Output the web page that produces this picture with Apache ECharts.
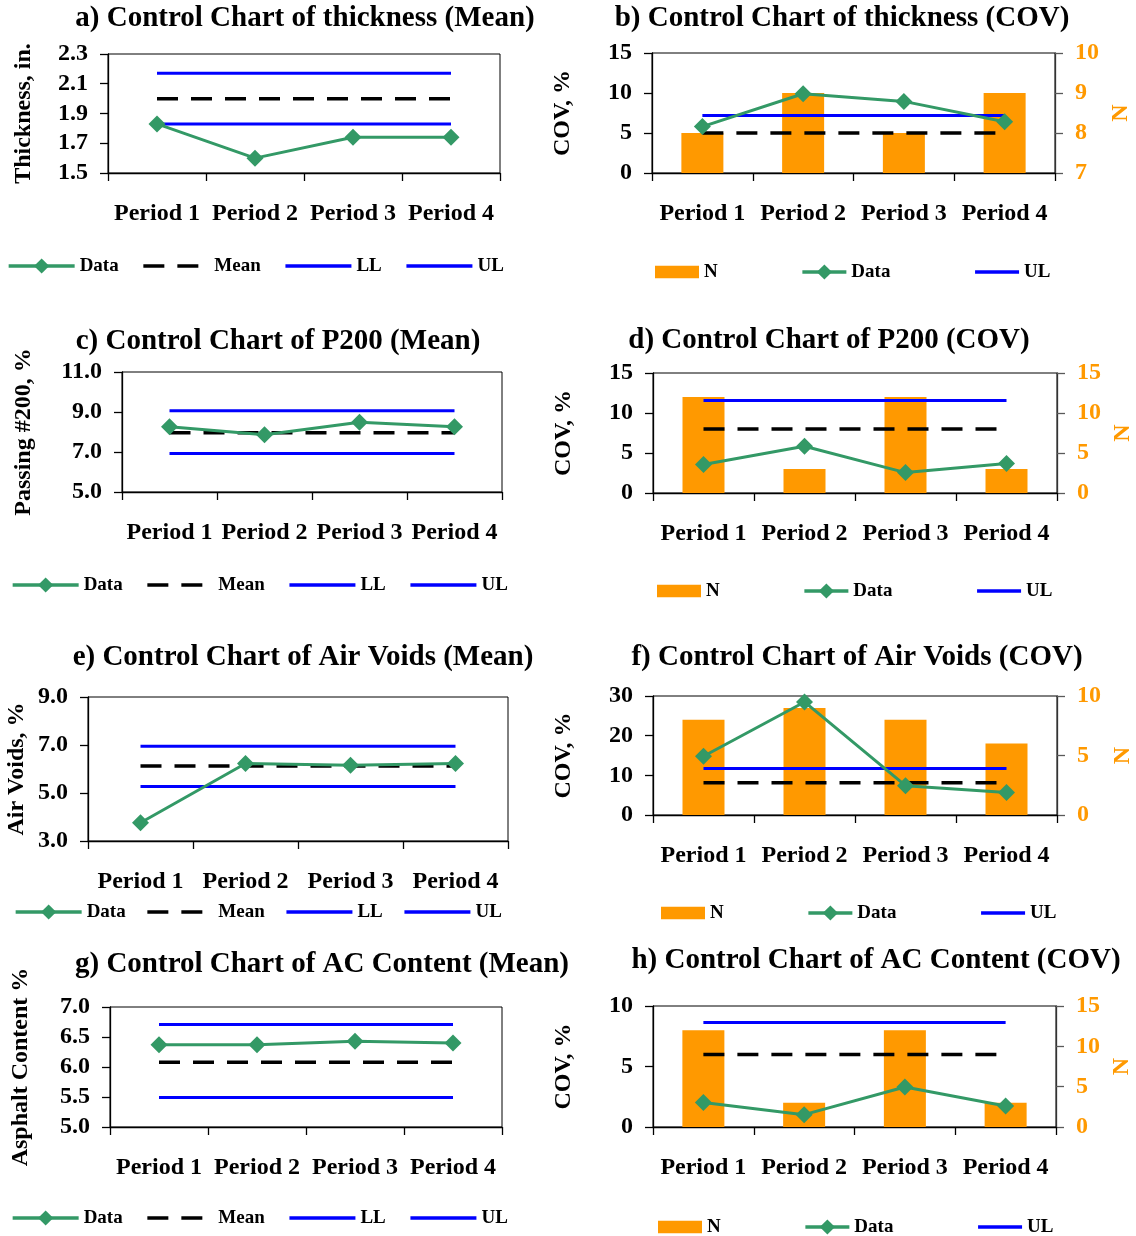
<!DOCTYPE html>
<html>
<head>
<meta charset="utf-8">
<title>Control Charts</title>
<script src="https://cdn.jsdelivr.net/npm/echarts@6/dist/echarts.min.js"></script>
<style>
  html, body { margin: 0; padding: 0; background: #fff; }
  #chart { width: 1136px; height: 1236px; }
</style>
</head>
<body>
<div id="chart"></div>
<script>
// ---- data ----
const periods = ['Period 1', 'Period 2', 'Period 3', 'Period 4'];

// a) thickness, mean per period (in.)
const thickMean = [1.83, 1.60, 1.74, 1.74];
const thickLimits = [2.00, 1.83, 2.17];          // centre, LL, UL

// b) thickness, COV per period (%) and sample count
const thickCov = [5.8, 9.9, 8.95, 6.4];
const thickN = [8, 9, 8, 9];
const thickCovLimits = [5.0, 7.2];               // centre, UL

// c) passing #200, mean (%)
const p200Mean = [8.26, 7.86, 8.49, 8.26];
const p200Limits = [7.96, 6.93, 9.06];

// d) passing #200, COV (%)
const p200Cov = [3.55, 5.84, 2.55, 3.68];
const p200N = [12, 3, 12, 3];
const p200CovLimits = [8.0, 11.55];

// e) air voids, mean (%)
const avMean = [3.76, 6.23, 6.16, 6.23];
const avLimits = [6.12, 5.27, 6.95];

// f) air voids, COV (%)
const avCov = [14.8, 28.5, 7.4, 5.7];
const avN = [8, 9, 8, 6];
const avCovLimits = [8.1, 11.7];

// g) asphalt content, mean (%)
const acMean = [6.37, 6.37, 6.43, 6.40];
const acLimits = [6.08, 5.49, 6.71];

// h) asphalt content, COV (%)
const acCov = [2.02, 1.02, 3.30, 1.74];
const acN = [12, 3, 12, 3];
const acCovLimits = [6.0, 8.63];

// ---- styling ----
const FONT = 'Liberation Serif';
const GREEN = '#339966';
const BLUE = '#0000FF';
const ORANGE = '#FF9900';
const GREY_AXIS = '#595959';
const flat = v => periods.map(() => v);
const txt = (size, color) => ({ fontFamily: FONT, fontWeight: 'bold', fontSize: size, color: color || '#000' });

const option = {
  animation: false,
  backgroundColor: '#fff',
  graphic: [],
  grid: [],
  xAxis: [],
  yAxis: [],
  series: [],
  legend: []
};

function addTitle(text, cx, cy) {
  option.graphic.push({
    type: 'text', x: cx, y: cy,
    style: { text, align: 'center', verticalAlign: 'middle', font: 'bold 29px "Liberation Serif"', fill: '#000' }
  });
}

function addGrid(box) {
  option.grid.push({
    left: box.l, top: box.t, width: box.w, height: box.h,
    show: true, borderColor: '#000', borderWidth: 1, backgroundColor: 'transparent'
  });
  const gi = option.grid.length - 1;
  option.xAxis.push({
    type: 'category', gridIndex: gi, data: periods, boundaryGap: true,
    axisLine: { show: true, lineStyle: { color: '#000', width: 1.3 } },
    axisTick: { show: true, length: 8, lineStyle: { color: '#000', width: 1.3 } },
    axisLabel: Object.assign({ margin: 29, interval: 0 }, txt(24)),
    splitLine: { show: false }
  });
  return gi;
}

function leftAxis(gi, ax) {
  option.yAxis.push({
    type: 'value', gridIndex: gi, position: 'left',
    min: ax.min, max: ax.max, interval: ax.step,
    axisLine: { show: true, lineStyle: { color: '#000', width: 1.3 } },
    axisTick: { show: true, length: 8, lineStyle: { color: '#000', width: 1.3 } },
    splitLine: { show: false },
    axisLabel: Object.assign({ margin: 20, formatter: v => v.toFixed(ax.dec) }, txt(24)),
    name: ax.name, nameLocation: 'middle', nameGap: ax.nameGap, nameRotate: 90,
    nameTextStyle: txt(24)
  });
  return option.yAxis.length - 1;
}

function rightAxis(gi, ax) {
  option.yAxis.push({
    type: 'value', gridIndex: gi, position: 'right',
    min: ax.min, max: ax.max, interval: ax.step,
    axisLine: { show: true, lineStyle: { color: '#333', width: 1.3 } },
    axisTick: { show: true, length: 8, lineStyle: { color: GREY_AXIS, width: 1.3 } },
    splitLine: { show: false },
    axisLabel: Object.assign({ margin: 20 }, txt(24, ORANGE)),
    name: 'N', nameLocation: 'middle', nameGap: 54, nameRotate: 90,
    nameTextStyle: txt(24, ORANGE)
  });
  return option.yAxis.length - 1;
}

function dataLine(gi, yi, values) {
  return {
    type: 'line', name: 'Data', xAxisIndex: gi, yAxisIndex: yi, data: values, z: 4,
    symbol: 'diamond', symbolSize: 17, showSymbol: true,
    lineStyle: { color: GREEN, width: 3 }, itemStyle: { color: GREEN }
  };
}

function flatLine(gi, yi, name, value, dashed) {
  return {
    type: 'line', name, xAxisIndex: gi, yAxisIndex: yi, data: flat(value), z: 3,
    symbol: 'none',
    lineStyle: dashed ? { color: '#000', width: 3.5, type: [21, 13] } : { color: BLUE, width: 3 },
    itemStyle: { color: dashed ? '#000' : BLUE }
  };
}

const legendText = txt(19);
const legendLine = { width: 3.3 };
const hiddenMark = { opacity: 0 };

function meanPanel(p) {
  addTitle(p.title, p.titleX, p.titleY);
  const gi = addGrid(p.box);
  const yi = leftAxis(gi, p.axis);
  option.series.push(
    dataLine(gi, yi, p.values),
    flatLine(gi, yi, 'Mean', p.limits[0], true),
    flatLine(gi, yi, 'LL', p.limits[1], false),
    flatLine(gi, yi, 'UL', p.limits[2], false)
  );
  option.legend.push({
    left: p.legend[0], top: p.legend[1] - 9.5, padding: 0, orient: 'horizontal',
    itemWidth: 66, itemHeight: 19, itemGap: p.legend[2], selectedMode: false,
    textStyle: legendText, lineStyle: legendLine,
    data: ['Data', { name: 'Mean', itemStyle: hiddenMark }, { name: 'LL', itemStyle: hiddenMark }, { name: 'UL', itemStyle: hiddenMark }]
  });
}

function covPanel(p) {
  addTitle(p.title, p.titleX, p.titleY);
  const gi = addGrid(p.box);
  const yi = leftAxis(gi, p.axis);
  const ri = rightAxis(gi, p.nAxis);
  option.series.push(
    {
      type: 'bar', name: 'N', xAxisIndex: gi, yAxisIndex: ri, data: p.counts, barWidth: 42, z: 2,
      itemStyle: { color: ORANGE }
    },
    dataLine(gi, yi, p.values),
    flatLine(gi, yi, 'UL', p.limits[1], false),
    flatLine(gi, yi, 'Mean', p.limits[0], true)
  );
  option.legend.push({
    left: p.legend[0], top: p.legend[1] - 9.5, padding: 0, orient: 'horizontal',
    itemWidth: 44, itemHeight: 19, itemGap: 83, selectedMode: false,
    textStyle: legendText, lineStyle: legendLine,
    data: [{ name: 'N', icon: 'path://M0,0H45V13H0Z' }, 'Data', { name: 'UL', itemStyle: hiddenMark }]
  });
}

// ---- panels ----
meanPanel({
  title: 'a) Control Chart of thickness (Mean)', titleX: 305, titleY: 19,
  box: { l: 108, t: 54, w: 392, h: 119 },
  axis: { min: 1.5, max: 2.3, step: 0.2, dec: 1, name: 'Thickness, in.', nameGap: 72 },
  values: thickMean, limits: thickLimits, legend: [7, 266, 23]
});
covPanel({
  title: 'b) Control Chart of thickness (COV)', titleX: 842, titleY: 19,
  box: { l: 652, t: 53, w: 403, h: 120 },
  axis: { min: 0, max: 15, step: 5, dec: 0, name: 'COV, %', nameGap: 77 },
  nAxis: { min: 7, max: 10, step: 1 },
  values: thickCov, counts: thickN, limits: thickCovLimits, legend: [655, 272]
});
meanPanel({
  title: 'c) Control Chart of P200 (Mean)', titleX: 278, titleY: 342,
  box: { l: 122, t: 372, w: 380, h: 120 },
  axis: { min: 5, max: 11, step: 2, dec: 1, name: 'Passing #200, %', nameGap: 86 },
  values: p200Mean, limits: p200Limits, legend: [11, 585, 23]
});
covPanel({
  title: 'd) Control Chart of P200 (COV)', titleX: 829, titleY: 341,
  box: { l: 653, t: 373, w: 404, h: 120 },
  axis: { min: 0, max: 15, step: 5, dec: 0, name: 'COV, %', nameGap: 77 },
  nAxis: { min: 0, max: 15, step: 5 },
  values: p200Cov, counts: p200N, limits: p200CovLimits, legend: [657, 591]
});
meanPanel({
  title: 'e) Control Chart of Air Voids (Mean)', titleX: 303, titleY: 658,
  box: { l: 88, t: 697, w: 420, h: 144 },
  axis: { min: 3, max: 9, step: 2, dec: 1, name: 'Air Voids, %', nameGap: 59 },
  values: avMean, limits: avLimits, legend: [14, 912, 20]
});
covPanel({
  title: 'f) Control Chart of Air Voids (COV)', titleX: 857, titleY: 658,
  box: { l: 653, t: 696, w: 404, h: 119 },
  axis: { min: 0, max: 30, step: 10, dec: 0, name: 'COV, %', nameGap: 77 },
  nAxis: { min: 0, max: 10, step: 5 },
  values: avCov, counts: avN, limits: avCovLimits, legend: [661, 913]
});
meanPanel({
  title: 'g) Control Chart of AC Content (Mean)', titleX: 322, titleY: 965,
  box: { l: 110, t: 1007, w: 392, h: 120 },
  axis: { min: 5, max: 7, step: 0.5, dec: 1, name: 'Asphalt Content %', nameGap: 77 },
  values: acMean, limits: acLimits, legend: [11, 1218, 23]
});
covPanel({
  title: 'h) Control Chart of AC Content (COV)', titleX: 876, titleY: 961,
  box: { l: 653, t: 1006, w: 403, h: 121 },
  axis: { min: 0, max: 10, step: 5, dec: 0, name: 'COV, %', nameGap: 77 },
  nAxis: { min: 0, max: 15, step: 5 },
  values: acCov, counts: acN, limits: acCovLimits, legend: [658, 1227]
});

const chart = echarts.init(document.getElementById('chart'), null, { renderer: 'canvas' });
chart.setOption(option);
</script>
</body>
</html>
